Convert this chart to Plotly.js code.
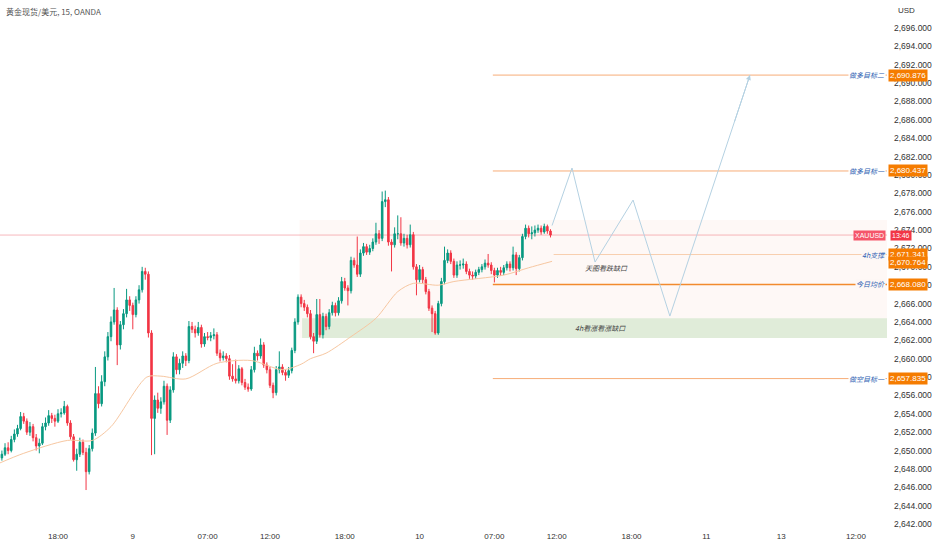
<!DOCTYPE html>
<html><head><meta charset="utf-8">
<script src="https://cdn.plot.ly/plotly-3.0.1.min.js"></script>
<style>html,body{margin:0;padding:0;background:#fff}#chart{width:932px;height:550px}</style>
</head><body><div id="chart"></div>
<script>
// ---- data (15-min bars, bar 0 = 18:00 on the 8th) ----
const firstBar = -19;
const opens = [
2649.0,2649.2,2649.6,2650.3,2650.0,2651.2,2651.8,2652.4,2653.7,2653.2,
2652.0,2652.6,2651.4,2650.5,2650.8,2652.6,2653.0,2653.8,2653.5,2653.2,
2654.0,2654.1,2654.8,2653.0,2651.5,2649.0,2649.6,2650.9,2649.8,2647.7,
2650.2,2651.9,2656.2,2655.1,2657.5,2660.2,2662.4,2664.0,2665.3,2661.5,
2663.7,2664.9,2666.4,2665.8,2664.8,2666.4,2667.5,2669.5,2669.2,2662.8,
2653.5,2655.5,2654.6,2655.3,2657.0,2653.3,2656.6,2660.2,2658.8,2659.5,
2660.3,2659.8,2663.5,2663.2,2662.8,2663.4,2661.6,2662.4,2662.3,2662.5,
2662.6,2660.6,2660.1,2660.3,2660.0,2658.1,2657.8,2657.6,2658.9,2657.4,
2656.9,2656.7,2658.8,2660.6,2660.3,2661.5,2659.3,2658.8,2657.1,2656.3,
2658.8,2659.1,2658.5,2658.2,2658.7,2660.9,2664.0,2666.7,2666.0,2665.6,
2664.9,2662.4,2661.9,2664.8,2662.6,2664.6,2663.5,2665.0,2665.8,2665.0,
2666.3,2668.4,2667.7,2667.4,2670.7,2670.2,2669.2,2671.5,2672.2,2671.6,
2672.0,2672.7,2673.6,2673.1,2677.1,2677.3,2672.7,2672.4,2673.6,2673.6,
2672.6,2673.1,2672.4,2673.5,2670.0,2668.6,2669.7,2668.6,2667.3,2665.5,
2664.9,2662.8,2666.0,2668.4,2670.7,2671.5,2670.6,2669.1,2670.2,2670.2,
2670.3,2669.5,2669.1,2669.0,2669.4,2669.7,2670.0,2670.4,2670.2,2669.6,
2669.1,2669.6,2669.4,2669.9,2670.3,2669.9,2671.3,2669.8,2671.0,2673.3,
2674.2,2673.6,2673.7,2674.0,2674.2,2673.8,2674.4,2673.9];
const highs = [
2649.6,2650.0,2650.8,2650.9,2651.6,2652.3,2652.8,2654.2,2654.1,2653.5,
2653.1,2652.9,2651.8,2651.3,2653.0,2653.6,2654.4,2654.1,2653.9,2654.5,
2654.6,2655.4,2655.0,2653.3,2651.8,2650.2,2651.4,2651.2,2650.3,2650.6,
2652.4,2659.1,2657.0,2658.2,2660.8,2662.9,2664.6,2667.7,2665.6,2664.1,
2665.4,2667.6,2666.8,2666.1,2666.8,2668.0,2670.0,2669.9,2669.5,2663.1,
2656.0,2656.3,2655.8,2657.6,2657.3,2657.0,2660.7,2660.5,2660.0,2660.8,
2660.6,2664.1,2664.0,2663.6,2664.0,2663.7,2662.8,2662.9,2662.9,2663.3,
2662.9,2661.0,2660.8,2660.6,2660.4,2659.4,2659.9,2659.3,2659.1,2657.8,
2657.3,2659.2,2661.3,2660.9,2662.2,2661.8,2659.6,2659.1,2657.4,2659.2,
2660.8,2659.4,2658.8,2659.1,2661.2,2664.4,2667.0,2667.0,2666.4,2665.9,
2665.3,2662.8,2666.5,2666.5,2665.0,2664.9,2665.4,2666.2,2666.1,2666.7,
2668.9,2668.8,2668.0,2671.1,2671.0,2673.3,2671.9,2672.6,2672.5,2672.4,
2673.1,2674.8,2674.0,2678.2,2678.3,2677.6,2673.0,2674.3,2675.6,2675.4,
2673.6,2673.5,2674.6,2673.8,2670.3,2670.2,2670.0,2668.9,2667.6,2665.8,
2665.2,2666.3,2668.8,2672.2,2671.9,2671.8,2670.9,2670.6,2670.7,2670.9,
2670.6,2669.8,2669.5,2669.7,2670.0,2670.3,2670.8,2671.4,2670.5,2669.9,
2669.9,2670.0,2670.2,2670.6,2670.6,2672.2,2671.6,2671.3,2673.6,2674.6,
2674.5,2674.4,2674.5,2674.6,2674.5,2674.7,2674.6,2674.1];
const lows = [
2648.6,2648.9,2649.4,2649.6,2649.8,2650.9,2651.5,2652.2,2652.9,2651.7,
2651.6,2651.0,2650.0,2649.7,2650.6,2652.2,2652.7,2653.0,2652.6,2653.0,
2653.6,2653.9,2652.7,2651.2,2648.8,2647.8,2649.3,2649.5,2645.7,2647.4,
2649.9,2651.6,2654.6,2654.8,2657.0,2659.8,2661.9,2663.7,2659.3,2661.0,
2663.2,2664.5,2665.2,2663.2,2664.5,2666.0,2667.2,2668.6,2662.3,2649.5,
2649.6,2654.1,2654.0,2655.0,2651.7,2653.0,2656.3,2658.3,2658.3,2659.0,
2659.2,2659.5,2662.8,2662.3,2662.5,2661.2,2661.3,2662.0,2661.9,2662.1,
2660.3,2659.7,2659.8,2659.6,2657.7,2657.5,2657.3,2657.3,2657.1,2656.6,
2656.4,2656.5,2658.5,2659.8,2660.0,2659.0,2658.4,2656.8,2655.7,2656.0,
2658.4,2658.2,2657.6,2657.9,2658.4,2660.6,2663.7,2665.6,2665.2,2664.5,
2662.1,2660.6,2661.6,2662.3,2662.2,2663.1,2663.2,2664.7,2664.6,2664.7,
2666.0,2667.4,2665.8,2667.1,2669.9,2668.9,2668.9,2671.2,2671.3,2671.3,
2671.7,2672.4,2672.5,2672.8,2676.5,2672.3,2669.5,2672.1,2673.0,2672.3,
2672.2,2672.0,2672.1,2669.7,2666.9,2668.3,2668.2,2667.0,2665.2,2662.9,
2662.6,2662.6,2665.7,2668.1,2670.4,2670.3,2668.8,2668.8,2669.7,2669.8,
2669.2,2668.7,2668.6,2668.7,2669.1,2669.4,2669.7,2669.9,2669.2,2668.3,
2668.8,2669.0,2669.1,2669.6,2669.5,2669.6,2669.1,2669.5,2670.7,2673.0,
2673.2,2673.0,2673.3,2673.7,2673.5,2673.6,2673.6,2673.2];
const closes = [
2649.2,2649.6,2650.3,2650.0,2651.2,2651.8,2652.4,2653.7,2653.2,2652.0,
2652.6,2651.4,2650.5,2650.8,2652.6,2653.0,2653.8,2653.5,2653.2,2654.0,
2654.1,2654.8,2653.0,2651.5,2649.0,2649.6,2650.9,2649.8,2647.7,2650.2,
2651.9,2656.2,2655.1,2657.5,2660.2,2662.4,2664.0,2665.3,2661.5,2663.7,
2664.9,2666.4,2665.8,2664.8,2666.4,2667.5,2669.5,2669.2,2662.8,2653.5,
2655.5,2654.6,2655.3,2657.0,2653.3,2656.6,2660.2,2658.8,2659.5,2660.3,
2659.8,2663.5,2663.2,2662.8,2663.4,2661.6,2662.4,2662.3,2662.5,2662.6,
2660.6,2660.1,2660.3,2660.0,2658.1,2657.8,2657.6,2658.9,2657.4,2656.9,
2656.7,2658.8,2660.6,2660.3,2661.5,2659.3,2658.8,2657.1,2656.3,2658.8,
2659.1,2658.5,2658.2,2658.7,2660.9,2664.0,2666.7,2666.0,2665.6,2664.9,
2662.4,2661.9,2664.8,2662.6,2664.6,2663.5,2665.0,2665.8,2665.0,2666.3,
2668.4,2667.7,2667.4,2670.7,2670.2,2669.2,2671.5,2672.2,2671.6,2672.0,
2672.7,2673.6,2673.1,2677.1,2677.3,2672.7,2672.4,2673.6,2673.6,2672.6,
2673.1,2672.4,2673.5,2670.0,2668.6,2669.7,2668.6,2667.3,2665.5,2664.9,
2662.8,2666.0,2668.4,2670.7,2671.5,2670.6,2669.1,2670.2,2670.2,2670.3,
2669.5,2669.1,2669.0,2669.4,2669.7,2670.0,2670.4,2670.2,2669.6,2669.1,
2669.6,2669.4,2669.9,2670.3,2669.9,2671.3,2669.8,2671.0,2673.3,2674.2,
2673.6,2673.7,2674.0,2674.2,2673.8,2674.4,2673.9,2673.46];

// moving average
const maBars   = [-19,-11,3,11,17,28.5,33,41,51,62,72,78,81,86,94,102,109,114,122,127,143,151,158.5];
const maValues = [2648.6,2649.7,2651.1,2651.1,2652.6,2658.0,2658.1,2657.8,2659.5,2659.8,2658.8,2659.4,2660.0,2660.6,2662.4,2664.4,2667.3,2668.2,2668.0,2668.4,2669.1,2669.9,2670.6];

// projected path
const pathBars   = [158.5,164.9,172.3,184.5,196.3,222];
const pathPrices = [2674.5,2680.76,2670.52,2677.27,2664.64,2690.88];

// levels
const levelNames  = ['做多目标二','做多目标一','4h支撑','今日均价','做空目标一'];
const levelPrices = [2690.876,2680.437,2671.341,2668.080,2657.835];
const levelStart  = [139.5,139.5,159,139.5,139.5];
const extraLabelPrice = 2670.764;
const lastPrice = 2673.46;

// zones
const pinkZone  = {from: 77.5, lo: 2662.25, hi: 2675.1};
const greenZone = {from: 78.3, lo: 2662.25, hi: 2664.4};

// axis ticks
const xTickBars = [0,24,48,68,92,116,140,160,184,208,232,256];
const xTickText = ['18:00','9','07:00','12:00','18:00','10','07:00','12:00','18:00','11','13','12:00'];
const yTicks = [2642,2644,2646,2648,2650,2652,2654,2656,2658,2660,2662,2664,2666,2668,2670,2672,2674,2676,2678,2680,2682,2684,2686,2688,2690,2692,2694,2696];

const bars = closes.map((_, k) => firstBar + k);
const fmt = v => v.toLocaleString('en-US', {minimumFractionDigits:3, maximumFractionDigits:3});
const font = '"Liberation Sans", Arial, "Noto Sans CJK SC", sans-serif';
const cjk = '"Noto Sans CJK SC", "Liberation Sans", sans-serif';

const traces = [
  {type:'scatter', mode:'lines', x:maBars, y:maValues, line:{color:'#f7c7a1', width:1, shape:'spline', smoothing:0.8}, hoverinfo:'skip'},
  {type:'candlestick', x:bars, open:opens, high:highs, low:lows, close:closes,
   increasing:{line:{color:'#089981', width:1}, fillcolor:'#089981'},
   decreasing:{line:{color:'#f23645', width:1}, fillcolor:'#f23645'},
   whiskerwidth:0, hoverinfo:'skip'},
  {type:'scatter', mode:'lines', x:pathBars, y:pathPrices, line:{color:'#b4d1e2', width:1}, hoverinfo:'skip'}
];

const shapes = [
  {type:'rect', xref:'x', yref:'y', x0:pinkZone.from, x1:300, y0:pinkZone.lo, y1:pinkZone.hi, fillcolor:'rgba(242,130,100,0.06)', line:{width:0}, layer:'below'},
  {type:'rect', xref:'x', yref:'y', x0:greenZone.from, x1:300, y0:greenZone.lo, y1:greenZone.hi, fillcolor:'rgba(76,175,80,0.17)', line:{width:0}, layer:'below'},
  {type:'line', xref:'paper', yref:'y', x0:0, x1:1, y0:lastPrice, y1:lastPrice, line:{color:'#f7b9bd', width:1}, layer:'below'}
];
levelPrices.forEach((p, i) => {
  const strong = levelNames[i] === '今日均价';
  const soft = levelNames[i] === '4h支撑';
  shapes.push({type:'line', xref:'x', yref:'y', x0:levelStart[i], x1:300, y0:p, y1:p,
    line:{color: strong ? '#f28a2e' : (soft ? '#f8cfae' : '#f7ad78'), width: strong ? 1.5 : 1}, layer:'below'});
});

const annotations = [
  {xref:'paper', yref:'paper', x:0, y:1, xanchor:'left', yanchor:'top', xshift:4, yshift:-4, showarrow:false,
   text:'黄金现货/美元, 15, OANDA', font:{family:cjk, size:8, color:'#555'}},
  {xref:'paper', yref:'paper', x:1, y:1, xanchor:'left', yanchor:'top', xshift:9, yshift:-4, showarrow:false,
   text:'USD', font:{family:font, size:8, color:'#333'}},
  {xref:'x', yref:'y', x:pathBars[5], y:pathPrices[5], ax:pathBars[4] + (pathBars[5]-pathBars[4])*0.8, ay:pathPrices[4] + (pathPrices[5]-pathPrices[4])*0.8,
   axref:'x', ayref:'y', showarrow:true, arrowhead:2, arrowsize:1, arrowwidth:1, arrowcolor:'#b4d1e2', text:''},
  {xref:'x', yref:'y', x:176, y:2669.9, showarrow:false, text:'<i>天图看跌缺口</i>', font:{family:cjk, size:7, color:'#444'}},
  {xref:'x', yref:'y', x:174, y:2663.3, showarrow:false, text:'<i>4h看涨看涨缺口</i>', font:{family:cjk, size:7, color:'#444'}},
  {xref:'paper', yref:'y', x:1, y:lastPrice, xanchor:'right', xshift:-1, showarrow:false, text:'XAUUSD',
   bgcolor:'#f5566a', borderpad:1, font:{family:font, size:7, color:'#fff'}},
  {xref:'paper', yref:'y', x:1, y:lastPrice, xanchor:'left', xshift:3, showarrow:false, text:'13:46',
   bgcolor:'#f23645', borderpad:1, font:{family:font, size:7, color:'#fff'}}
];
levelPrices.forEach((p, i) => {
  annotations.push({xref:'paper', yref:'y', x:1, y:p, xanchor:'right', xshift:-1, showarrow:false,
    text:'<i>'+levelNames[i]+'</i>', font:{family:cjk, size:7, color:'#2f5fb3'},
    bgcolor: (p > pinkZone.lo && p < pinkZone.hi) ? '#fdf7f5' : '#ffffff', borderpad:0});
  annotations.push({xref:'paper', yref:'y', x:1, y:p, xanchor:'left', xshift:1, showarrow:false,
    text:fmt(p), bgcolor:'#f57c00', borderpad:1, font:{family:font, size:8, color:'#fff'}});
});
annotations.push({xref:'paper', yref:'y', x:1, y:extraLabelPrice, xanchor:'left', xshift:1, yshift:-3, showarrow:false,
  text:fmt(extraLabelPrice), bgcolor:'#f57c00', borderpad:1, font:{family:font, size:8, color:'#fff'}});

const layout = {
  width:932, height:550, margin:{l:0, r:45, t:0, b:20},
  paper_bgcolor:'#fff', plot_bgcolor:'#fff', showlegend:false,
  xaxis:{range:[-18.61, 265.96], tickvals:xTickBars, ticktext:xTickText, showgrid:false, zeroline:false,
    showline:false, ticks:'', rangeslider:{visible:false}, tickfont:{family:font, size:8, color:'#333'}, fixedrange:true},
  yaxis:{range:[2641.35, 2699.05], side:'right', tickvals:yTicks, tickformat:',.3f', showgrid:false, zeroline:false,
    showline:false, ticks:'', ticklabelstandoff:6, tickfont:{family:font, size:8.5, color:'#333'}, fixedrange:true},
  shapes:shapes, annotations:annotations
};
Plotly.newPlot('chart', traces, layout, {staticPlot:true, displayModeBar:false});
</script></body></html>
